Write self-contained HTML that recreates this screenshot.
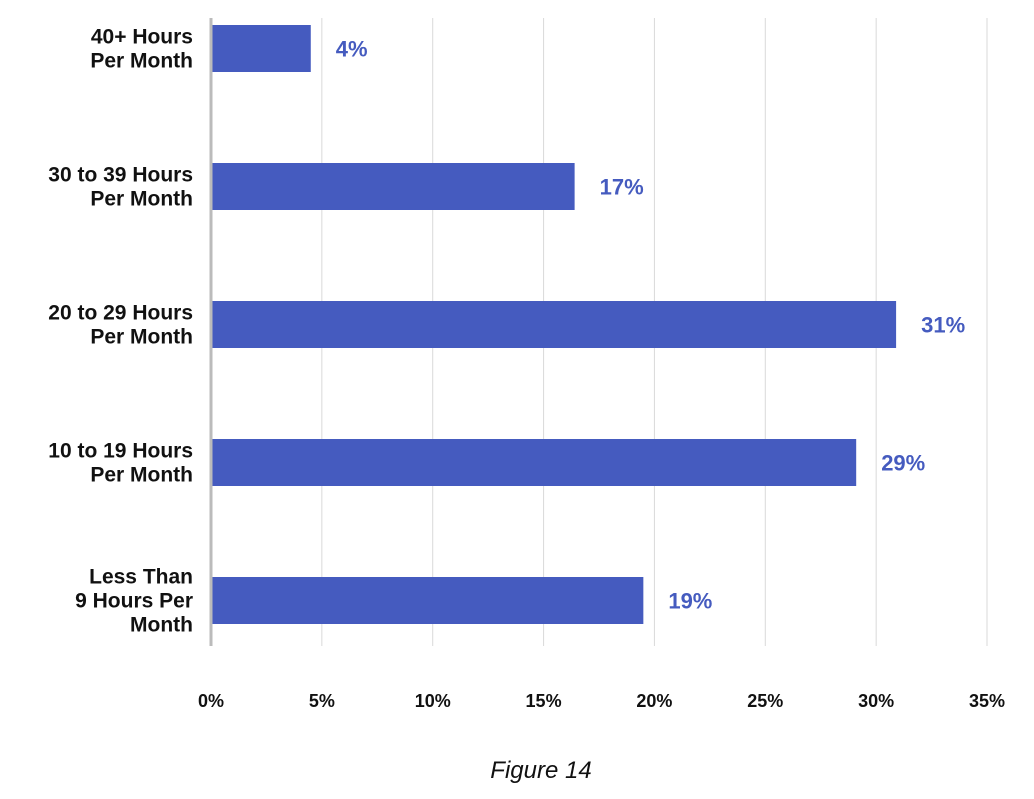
<!DOCTYPE html>
<html><head><meta charset="utf-8"><style>
body{margin:0;background:#fff;font-family:"Liberation Sans",sans-serif;}
</style></head><body>
<svg id="chart" width="1034" height="794" xmlns="http://www.w3.org/2000/svg"></svg>
<script>
const categories=["40+ Hours|Per Month","30 to 39 Hours|Per Month","20 to 29 Hours|Per Month","10 to 19 Hours|Per Month","Less Than|9 Hours Per|Month"];
const values=[4.5,16.4,30.9,29.1,19.5];
const valueLabels=["4%","17%","31%","29%","19%"];
const ticks=[0,5,10,15,20,25,30,35];
const tickLabels=["0%","5%","10%","15%","20%","25%","30%","35%"];
const svg=document.getElementById('chart');const NS='http://www.w3.org/2000/svg';
const x0=211,x1=987,xmax=35;
const xs=v=>x0+(x1-x0)*v/xmax;
const ys=i=>25+i*138;
const bh=47;
function mk(t,a,p){const e=document.createElementNS(NS,t);for(const k in a)e.setAttribute(k,a[k]);(p||svg).appendChild(e);return e;}
ticks.forEach((t,i)=>{
 if(t>0){const g=mk('line',{x1:xs(t),x2:xs(t),y1:18,y2:646,stroke:'#d9d9d9','stroke-width':1});
 
 }
 const tx=mk('text',{x:xs(t),y:707,'text-anchor':'middle','font-size':18,'font-weight':'bold',fill:'#111'});
 
 
 tx.textContent=tickLabels[i];
});
values.forEach((v,i)=>{
 const r=mk('rect',{x:x0,y:ys(i),width:xs(v)-x0,height:bh,fill:'#455bbf'});
 
 
 const l=mk('text',{x:xs(v)+25,y:ys(i)+bh/2+8,'font-size':22,'font-weight':'bold',fill:'#455bbf'});
 
 
 l.textContent=valueLabels[i];
 const lines=categories[i].split('|');
 const t=mk('text',{x:193,'text-anchor':'end','font-size':21,'font-weight':'bold',fill:'#111'});
 
 
 const cy=ys(i)+bh/2,lh=24,start=cy-(lines.length-1)*lh/2+7;
 lines.forEach((s,j)=>{const ts=mk('tspan',{x:193,y:start+j*lh},t);ts.textContent=s;});
});
const ax=mk('line',{x1:x0,x2:x0,y1:18,y2:646,stroke:'#bbbbbb','stroke-width':3});


const cap=mk('text',{x:541,y:778,'text-anchor':'middle','font-size':24,'font-style':'italic',fill:'#111'});


cap.textContent='Figure 14';
</script>
</body></html>
